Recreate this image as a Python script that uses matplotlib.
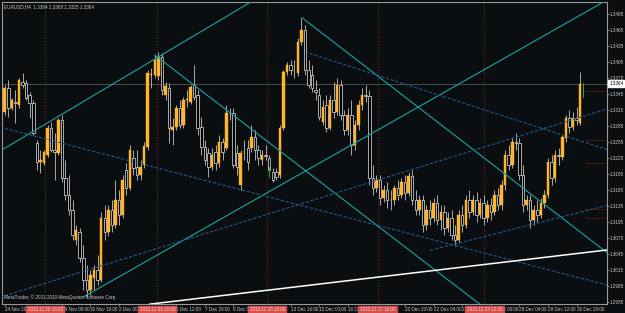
import numpy as np
import matplotlib.pyplot as plt
from matplotlib.patches import Rectangle

# EURUSD H4 candles (oldest first)
opens = [1.3311, 1.3356, 1.3319, 1.3330, 1.3324, 1.3367, 1.3365, 1.3343, 1.3328, 1.3253,
         1.3217, 1.3215, 1.3230, 1.3281, 1.3240, 1.3234, 1.3296, 1.3187, 1.3155, 1.3127,
         1.3071, 1.3086, 1.3037, 1.2996, 1.2977, 1.3000, 1.3015, 1.2996, 1.3112, 1.3086,
         1.3127, 1.3099, 1.3146, 1.3118, 1.3202, 1.3169, 1.3225, 1.3208, 1.3193, 1.3212,
         1.3245, 1.3380, 1.3380, 1.3379, 1.3414, 1.3343, 1.3356, 1.3277, 1.3283, 1.3319,
         1.3287, 1.3333, 1.3330, 1.3362, 1.3343, 1.3283, 1.3245, 1.3234, 1.3208, 1.3236,
         1.3215, 1.3255, 1.3244, 1.3309, 1.3309, 1.3234, 1.3174, 1.3236, 1.3244, 1.3244,
         1.3264, 1.3240, 1.3221, 1.3230, 1.3225, 1.3199, 1.3199, 1.3193, 1.3281, 1.3386,
         1.3399, 1.3388, 1.3384, 1.3442, 1.3465, 1.3390, 1.3380, 1.3352, 1.3343, 1.3292,
         1.3324, 1.3281, 1.3334, 1.3311, 1.3362, 1.3305, 1.3277, 1.3305, 1.3249, 1.3287,
         1.3324, 1.3343, 1.3341, 1.3187, 1.3169, 1.3184, 1.3150, 1.3165, 1.3146, 1.3146,
         1.3169, 1.3155, 1.3180, 1.3159, 1.3191, 1.3146, 1.3127, 1.3146, 1.3099, 1.3127,
         1.3112, 1.3140, 1.3109, 1.3124, 1.3094, 1.3112, 1.3080, 1.3071, 1.3118, 1.3099,
         1.3146, 1.3124, 1.3146, 1.3118, 1.3140, 1.3112, 1.3137, 1.3124, 1.3155, 1.3137,
         1.3174, 1.3230, 1.3212, 1.3255, 1.3253, 1.3193, 1.3137, 1.3146, 1.3109, 1.3127,
         1.3118, 1.3140, 1.3155, 1.3217, 1.3187, 1.3230, 1.3227, 1.3262, 1.3300, 1.3283,
         1.3300, 1.3290]
highs = [1.3362, 1.3371, 1.3337, 1.3352, 1.3375, 1.3384, 1.3371, 1.3349, 1.3334, 1.3259,
         1.3240, 1.3240, 1.3287, 1.3292, 1.3272, 1.3300, 1.3305, 1.3221, 1.3193, 1.3146,
         1.3099, 1.3094, 1.3062, 1.3024, 1.3015, 1.3024, 1.3043, 1.3124, 1.3137, 1.3137,
         1.3146, 1.3184, 1.3165, 1.3193, 1.3215, 1.3249, 1.3240, 1.3240, 1.3221, 1.3255,
         1.3390, 1.3394, 1.3418, 1.3424, 1.3422, 1.3367, 1.3365, 1.3300, 1.3324, 1.3334,
         1.3339, 1.3352, 1.3362, 1.3399, 1.3352, 1.3302, 1.3259, 1.3244, 1.3244, 1.3249,
         1.3268, 1.3262, 1.3324, 1.3319, 1.3319, 1.3249, 1.3240, 1.3259, 1.3259, 1.3287,
         1.3277, 1.3249, 1.3240, 1.3249, 1.3230, 1.3206, 1.3206, 1.3287, 1.3390, 1.3405,
         1.3409, 1.3409, 1.3450, 1.3487, 1.3474, 1.3409, 1.3399, 1.3371, 1.3356, 1.3334,
         1.3343, 1.3343, 1.3367, 1.3375, 1.3371, 1.3315, 1.3319, 1.3334, 1.3296, 1.3334,
         1.3356, 1.3362, 1.3352, 1.3212, 1.3193, 1.3193, 1.3174, 1.3180, 1.3165, 1.3174,
         1.3184, 1.3187, 1.3193, 1.3199, 1.3202, 1.3165, 1.3155, 1.3155, 1.3137, 1.3146,
         1.3150, 1.3155, 1.3137, 1.3137, 1.3124, 1.3127, 1.3099, 1.3127, 1.3137, 1.3155,
         1.3165, 1.3155, 1.3161, 1.3150, 1.3155, 1.3146, 1.3150, 1.3165, 1.3169, 1.3184,
         1.3240, 1.3249, 1.3262, 1.3272, 1.3262, 1.3212, 1.3155, 1.3155, 1.3137, 1.3146,
         1.3150, 1.3165, 1.3225, 1.3230, 1.3240, 1.3244, 1.3268, 1.3305, 1.3315, 1.3311,
         1.3320, 1.3386]
lows = [1.3305, 1.3302, 1.3315, 1.3290, 1.3319, 1.3356, 1.3334, 1.3300, 1.3268, 1.3202,
        1.3197, 1.3212, 1.3227, 1.3236, 1.3184, 1.3230, 1.3180, 1.3146, 1.3118, 1.3071,
        1.3062, 1.3030, 1.2977, 1.2964, 1.2968, 1.2977, 1.2987, 1.2992, 1.3071, 1.3079,
        1.3086, 1.3094, 1.3099, 1.3112, 1.3155, 1.3165, 1.3193, 1.3184, 1.3184, 1.3206,
        1.3240, 1.3356, 1.3375, 1.3371, 1.3343, 1.3334, 1.3253, 1.3249, 1.3277, 1.3281,
        1.3281, 1.3320, 1.3326, 1.3334, 1.3268, 1.3230, 1.3212, 1.3189, 1.3202, 1.3202,
        1.3208, 1.3221, 1.3240, 1.3296, 1.3206, 1.3193, 1.3165, 1.3221, 1.3202, 1.3236,
        1.3221, 1.3212, 1.3212, 1.3221, 1.3193, 1.3180, 1.3184, 1.3187, 1.3277, 1.3380,
        1.3380, 1.3375, 1.3379, 1.3437, 1.3380, 1.3356, 1.3349, 1.3334, 1.3296, 1.3287,
        1.3274, 1.3277, 1.3300, 1.3305, 1.3296, 1.3268, 1.3268, 1.3230, 1.3240, 1.3277,
        1.3315, 1.3330, 1.3174, 1.3155, 1.3161, 1.3137, 1.3142, 1.3131, 1.3127, 1.3137,
        1.3146, 1.3150, 1.3146, 1.3154, 1.3137, 1.3118, 1.3118, 1.3086, 1.3090, 1.3099,
        1.3105, 1.3099, 1.3090, 1.3080, 1.3086, 1.3071, 1.3060, 1.3065, 1.3086, 1.3094,
        1.3112, 1.3118, 1.3105, 1.3112, 1.3099, 1.3105, 1.3109, 1.3118, 1.3127, 1.3127,
        1.3165, 1.3202, 1.3206, 1.3240, 1.3184, 1.3124, 1.3127, 1.3094, 1.3099, 1.3105,
        1.3112, 1.3131, 1.3150, 1.3174, 1.3180, 1.3212, 1.3221, 1.3255, 1.3272, 1.3277,
        1.3287, 1.3287]
closes = [1.3356, 1.3319, 1.3334, 1.3328, 1.3371, 1.3362, 1.3337, 1.3328, 1.3272, 1.3217,
          1.3221, 1.3236, 1.3281, 1.3240, 1.3236, 1.3296, 1.3187, 1.3155, 1.3127, 1.3080,
          1.3090, 1.3037, 1.2996, 1.2977, 1.3005, 1.3015, 1.2996, 1.3112, 1.3086, 1.3127,
          1.3099, 1.3146, 1.3118, 1.3184, 1.3169, 1.3240, 1.3206, 1.3193, 1.3208, 1.3247,
          1.3384, 1.3382, 1.3409, 1.3414, 1.3352, 1.3360, 1.3281, 1.3283, 1.3319, 1.3287,
          1.3334, 1.3335, 1.3358, 1.3339, 1.3281, 1.3245, 1.3221, 1.3208, 1.3230, 1.3215,
          1.3255, 1.3236, 1.3309, 1.3310, 1.3212, 1.3208, 1.3234, 1.3237, 1.3217, 1.3264,
          1.3240, 1.3225, 1.3230, 1.3229, 1.3202, 1.3184, 1.3189, 1.3281, 1.3386, 1.3399,
          1.3390, 1.3389, 1.3442, 1.3465, 1.3390, 1.3362, 1.3356, 1.3349, 1.3302, 1.3320,
          1.3281, 1.3334, 1.3311, 1.3362, 1.3305, 1.3277, 1.3305, 1.3249, 1.3287, 1.3324,
          1.3343, 1.3341, 1.3187, 1.3169, 1.3184, 1.3150, 1.3165, 1.3146, 1.3147, 1.3169,
          1.3155, 1.3180, 1.3159, 1.3191, 1.3146, 1.3127, 1.3146, 1.3099, 1.3127, 1.3112,
          1.3140, 1.3109, 1.3124, 1.3094, 1.3112, 1.3080, 1.3071, 1.3118, 1.3099, 1.3146,
          1.3124, 1.3146, 1.3118, 1.3140, 1.3112, 1.3137, 1.3124, 1.3155, 1.3137, 1.3174,
          1.3230, 1.3212, 1.3255, 1.3253, 1.3193, 1.3137, 1.3146, 1.3109, 1.3127, 1.3118,
          1.3140, 1.3155, 1.3217, 1.3187, 1.3230, 1.3229, 1.3264, 1.3300, 1.3283, 1.3300,
          1.3296, 1.3364]

# time axis labels (bar index, text); labels hidden under the red object tags are left out
time_ticks = [0, 16, 24, 32, 48, 56, 64, 80, 88, 96, 112, 120, 128, 136, 144, 152, 160]
time_labels = ["24 Nov 2010", "29 Nov 08:00", "30 Nov 16:00", "2 Dec 00:00",
               "6 Dec 12:00", "7 Dec 20:00", "9 Dec 04:00", "13 Dec 16:00", "15 Dec 00:00",
               "16 Dec 08:00", "20 Dec 20:00", "22 Dec 04:00", "23 Dec 12:00", "27 Dec 00:00",
               "28 Dec 04:00", "29 Dec 12:00", "30 Dec 20:00"]
price_ticks = [1.2955, 1.2985, 1.3015, 1.3045, 1.3075, 1.3105, 1.3135, 1.3165, 1.3195, 1.3225,
               1.3255, 1.3285, 1.3315, 1.3345, 1.3375, 1.3405, 1.3435, 1.3465, 1.3495]

# vertical line objects (bar index, label)
vlines_at = [11.4, 42.7, 73.5, 104.3, 134.2]
vline_labels = ["2010.11.26 16:00", "2010.12.03 16:00", "2010.12.10 16:00",
                "2010.12.17 16:00", "2010.12.24 12:00"]

# trend lines: (bar1, price1, bar2, price2)
cyan_lines = [(-1.3, 1.3238, 75, 1.3542),
              (42.0, 1.3418, 136, 1.2935),
              (83.2, 1.3488, 169, 1.3045),
              (21.9, 1.2964, 170, 1.3527)]
blue_lines = [(-1.3, 1.3283, 169, 1.2986),
              (-1.3, 1.2964, 169, 1.3318),
              (84.0, 1.3424, 169, 1.3240),
              (119.0, 1.3052, 169, 1.3137)]
white_line = (40.6, 1.2951, 169, 1.3053)
red_levels = [1.3350, 1.3259, 1.3215, 1.3130, 1.3112]
# small green marks (bar, low, high)
green_marks = [(74, 1.3189, 1.3208), (161.8, 1.3339, 1.3365)]

bid = closes[-1]
BG = "#0b0e10"
BULL = "#ffb52e"
EDGE = "#c4c4c4"

fig = plt.figure(figsize=(6.25, 3.13), dpi=100, facecolor=BG)
ax = fig.add_axes([2 / 625, 9 / 313, 605 / 625, 302 / 313], facecolor=BG)
ax.set_xlim(-0.75, 168.5)
ax.set_ylim(1.29513, 1.35175)

o = np.array(opens); h = np.array(highs); l = np.array(lows); c = np.array(closes)
x = np.arange(len(o))

# object lines / bid line behind the candles
for vx in vlines_at:
    ax.axvline(vx, color="#8a2020", lw=0.6, ls=(0, (1.5, 2)), zorder=1)
ax.axhline(bid, color="#555555", lw=0.6, zorder=1)

ax.vlines(x, l, h, color=EDGE, lw=0.6, zorder=3)
w = 0.7
for i in range(len(o)):
    bottom = min(o[i], c[i])
    height = max(abs(c[i] - o[i]), 0.00004)
    if c[i] >= o[i]:
        ax.add_patch(Rectangle((i - w / 2, bottom), w, height, facecolor=BULL,
                               edgecolor=BULL, lw=0.3, zorder=4))
    else:
        ax.add_patch(Rectangle((i - w / 2, bottom), w, height, facecolor="black",
                               edgecolor=EDGE, lw=0.6, zorder=4))

for x1, y1, x2, y2 in cyan_lines:
    ax.plot([x1, x2], [y1, y2], color="#1ba3a3", lw=0.8, zorder=5)
for x1, y1, x2, y2 in blue_lines:
    ax.plot([x1, x2], [y1, y2], color="#23588a", lw=0.8, ls=(0, (3, 1.5)), zorder=5)
ax.plot(white_line[::2], white_line[1::2], color="white", lw=1.1, zorder=5)
for lv in red_levels:
    ax.plot([162.5, 168.5], [lv, lv], color="#a02424", lw=0.6, ls=(0, (1.5, 1.5)), zorder=5)
for gx, glo, ghi in green_marks:
    ax.plot([gx, gx], [glo, ghi], color="#22b422", lw=0.7, zorder=6)

for s in ax.spines.values():
    s.set_color("#9a9a9a")
    s.set_linewidth(0.8)
ax.set_xticks([])
ax.set_yticks([])

font = "Liberation Sans"
tc = "#c8c8c8"
fs = 3.3
for pt in price_ticks:
    ax.annotate(f"{pt:.4f}", (1, pt), xycoords=("axes fraction", "data"), xytext=(2.2, 0),
                textcoords="offset points", va="center", ha="left", fontsize=fs,
                color=tc, family=font, annotation_clip=False)
    ax.plot([1, 1.004], [pt, pt], transform=ax.get_yaxis_transform(), color="#9a9a9a",
            lw=0.5, clip_on=False)
ax.annotate(f"{bid:.4f}", (1, bid), xycoords=("axes fraction", "data"), xytext=(1.6, 0),
            textcoords="offset points", va="center", ha="left", fontsize=fs,
            color="black", family=font, annotation_clip=False, zorder=10,
            bbox=dict(boxstyle="square,pad=0.2", fc="white", ec="white"))

for tx, lab in zip(time_ticks, time_labels):
    ax.annotate(lab, (tx, 0), xycoords=("data", "axes fraction"), xytext=(0, -2.5),
                textcoords="offset points", va="top", ha="left", fontsize=fs,
                color=tc, family=font, annotation_clip=False, zorder=8)
    ax.plot([tx, tx], [0, -0.008], transform=ax.get_xaxis_transform(), color="#9a9a9a",
            lw=0.5, clip_on=False)
for vx, lab in zip(vlines_at, vline_labels):
    ax.annotate(lab, (vx, 0), xycoords=("data", "axes fraction"), xytext=(0, -2.5),
                textcoords="offset points", va="top", ha="center", fontsize=fs,
                color="#f4d0d0", family=font, annotation_clip=False, zorder=10,
                bbox=dict(boxstyle="square,pad=0.3", fc="#d45050", ec="#d45050"))

ax.text(0.004, 0.992, "EURUSD,H4  1.3364 1.3368 1.3325 1.3364", transform=ax.transAxes,
        va="top", ha="left", fontsize=fs, color=tc, family=font, zorder=10)
ax.text(0.004, 0.012, "MetaTrader, \u00a9 2001-2010 MetaQuotes Software Corp.",
        transform=ax.transAxes, va="bottom", ha="left", fontsize=fs, color=tc,
        family=font, zorder=10)

fig.savefig("out.png", dpi=100, facecolor=BG)
